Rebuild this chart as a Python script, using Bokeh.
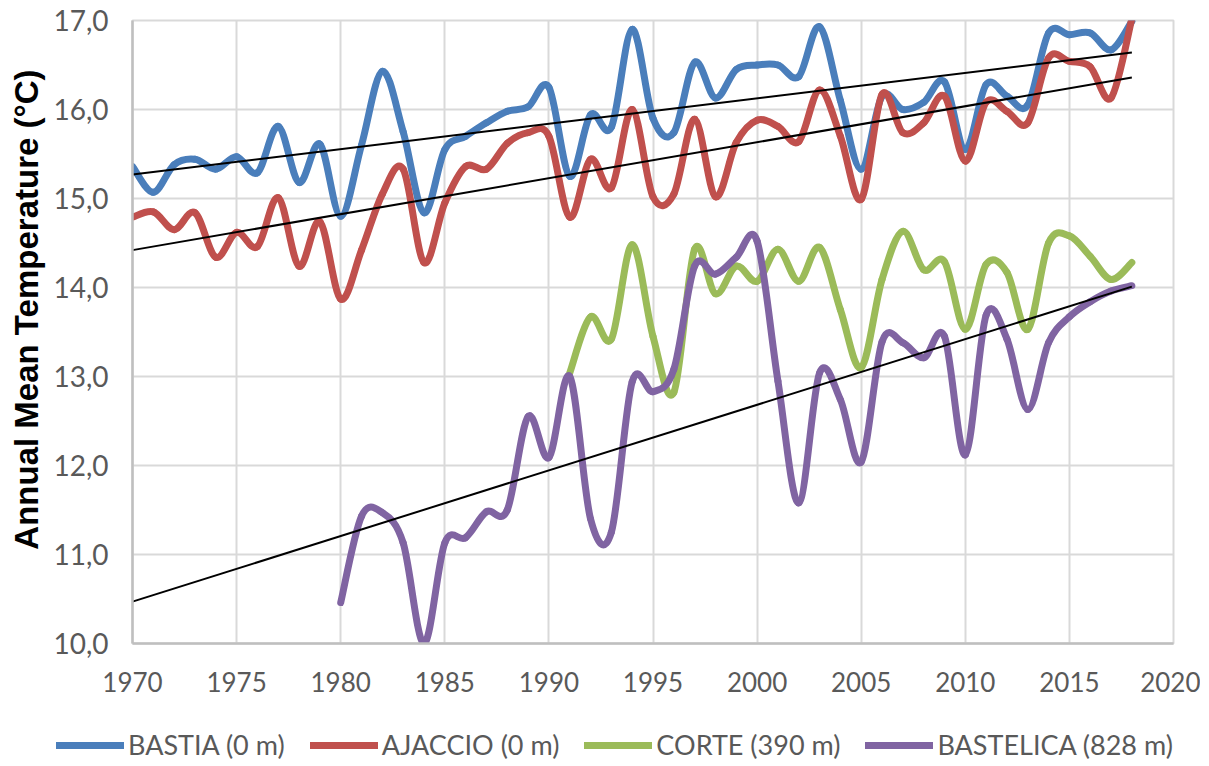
import numpy as np
from bokeh.plotting import figure
from bokeh.layouts import column
from bokeh.models import Legend, LegendItem, Range1d, FixedTicker, Title
from bokeh.embed import file_html
from bokeh.resources import INLINE

# ---------------- data ----------------
bastia_years = list(range(1970, 2019))
bastia = [15.36, 15.07, 15.38, 15.44, 15.33, 15.47, 15.29, 15.81, 15.18, 15.61,
          14.80, 15.60, 16.43, 15.75, 14.84, 15.55, 15.70, 15.85, 15.98, 16.03,
          16.25, 15.25, 15.94, 15.80, 16.90, 15.90, 15.74, 16.53, 16.13, 16.45,
          16.50, 16.50, 16.37, 16.93, 16.10, 15.33, 16.15, 16.00, 16.08, 16.31,
          15.55, 16.28, 16.15, 16.05, 16.86, 16.84, 16.86, 16.67, 16.99]

ajaccio_years = list(range(1970, 2019))
ajaccio = [14.79, 14.85, 14.65, 14.84, 14.34, 14.62, 14.46, 15.01, 14.24, 14.74,
           13.87, 14.42, 15.05, 15.33, 14.28, 14.95, 15.36, 15.33, 15.62, 15.74,
           15.70, 14.79, 15.44, 15.12, 16.00, 15.02, 15.05, 15.89, 15.02, 15.63,
           15.88, 15.81, 15.64, 16.22, 15.70, 14.99, 16.17, 15.74, 15.85, 16.15,
           15.42, 16.08, 15.98, 15.85, 16.58, 16.54, 16.48, 16.13, 17.02]

corte_years = list(range(1991, 2019))
corte = [13.04, 13.67, 13.42, 14.48, 13.45, 12.82, 14.43, 13.93, 14.24, 14.07,
         14.43, 14.07, 14.45, 13.75, 13.10, 14.09, 14.63, 14.20, 14.29, 13.53,
         14.26, 14.17, 13.53, 14.50, 14.58, 14.35, 14.09, 14.28]

bastelica_years = list(range(1980, 2019))
bastelica = [10.46, 11.43, 11.47, 11.13, 10.00, 11.13, 11.19, 11.48, 11.50, 12.55,
             12.09, 13.00, 11.40, 11.25, 12.94, 12.83, 13.08, 14.24, 14.15, 14.34,
             14.52, 12.95, 11.58, 13.04, 12.74, 12.04, 13.39, 13.38, 13.21, 13.45,
             12.12, 13.69, 13.42, 12.63, 13.38, 13.67, 13.84, 13.96, 14.02]

trend_years = [1970, 2018]
bastia_trend = [15.27, 16.64]
ajaccio_trend = [14.42, 16.36]
bastelica_trend = [10.47, 14.01]

series_names = ["BASTIA (0 m)", "AJACCIO (0 m)", "CORTE (390 m)", "BASTELICA (828 m)"]
series_colors = ["#4a7ebb", "#c0504d", "#9bbb59", "#8064a2"]

x_ticks = [1970, 1975, 1980, 1985, 1990, 1995, 2000, 2005, 2010, 2015, 2020]
y_ticks = [10, 11, 12, 13, 14, 15, 16, 17]
y_tick_labels = ["10,0", "11,0", "12,0", "13,0", "14,0", "15,0", "16,0", "17,0"]
y_title = "Annual Mean Temperature (°C)"

# ---------------- smoothing (Bezier control points, like Excel "smoothed line") ----------------
def bezier_segments(xs, ys):
    xs = np.asarray(xs, float)
    ys = np.asarray(ys, float)
    n = len(xs)
    xp = np.concatenate([[xs[0]], xs, [xs[-1]]])
    yp = np.concatenate([[ys[0]], ys, [ys[-1]]])
    return dict(
        x0=xs[:-1], y0=ys[:-1], x1=xs[1:], y1=ys[1:],
        cx0=xs[:-1] + (xp[2:n + 1] - xp[0:n - 1]) / 6.0,
        cy0=ys[:-1] + (yp[2:n + 1] - yp[0:n - 1]) / 6.0,
        cx1=xs[1:] - (xp[3:n + 2] - xp[1:n]) / 6.0,
        cy1=ys[1:] - (yp[3:n + 2] - yp[1:n]) / 6.0,
    )

# ---------------- main figure ----------------
p = figure(width=1200, height=712, output_backend="svg", toolbar_location=None,
           x_range=Range1d(1970, 2020), y_range=Range1d(10, 17),
           min_border_left=132, min_border_right=27, min_border_top=20,
           min_border_bottom=69, background_fill_color="white",
           border_fill_color="white")
p.frame_align = False

p.outline_line_color = "#d9d9d9"
p.outline_line_width = 2

p.xaxis.ticker = FixedTicker(ticks=x_ticks)
p.yaxis.ticker = FixedTicker(ticks=y_ticks)
p.yaxis.major_label_overrides = dict(zip(y_ticks, y_tick_labels))

for ax in (p.xaxis, p.yaxis):
    ax.axis_line_color = "#bfbfbf"
    ax.axis_line_width = 2.5
    ax.major_tick_line_color = None
    ax.minor_tick_line_color = None
    ax.major_label_text_font = "Lato"
    ax.major_label_text_color = "#595959"

p.xaxis.major_label_text_font_size = "26px"
p.yaxis.major_label_text_font_size = "28px"
p.xaxis.major_label_standoff = 22
p.yaxis.major_label_standoff = 18

ytitle = Title(text=y_title, align="right", offset=49, standoff=11,
               text_font="Liberation Sans", text_font_style="bold",
               text_font_size="33px", text_color="black")
p.add_layout(ytitle, "left")

p.xgrid.grid_line_color = "#d9d9d9"
p.ygrid.grid_line_color = "#d9d9d9"
p.xgrid.grid_line_width = 2
p.ygrid.grid_line_width = 2

all_series = [(bastia_years, bastia), (ajaccio_years, ajaccio),
              (corte_years, corte), (bastelica_years, bastelica)]

for (xs, ys), color in zip(all_series, series_colors):
    p.bezier(line_color=color, line_width=7, line_cap="round",
             line_join="round", **bezier_segments(xs, ys))

for tr in (bastia_trend, ajaccio_trend, bastelica_trend):
    p.line(trend_years, tr, line_color="black", line_width=2)

# ---------------- legend strip (series drawn out of view, only their legend shows) ----------------
lf = figure(width=1200, height=52, output_backend="svg", toolbar_location=None,
            x_range=Range1d(0, 1), y_range=Range1d(0, 1),
            x_axis_type=None, y_axis_type=None,
            min_border=0, min_border_left=0, min_border_right=0,
            min_border_top=0, min_border_bottom=0,
            background_fill_color="white", border_fill_color="white")
lf.frame_align = False
lf.outline_line_color = None
lf.xgrid.visible = False
lf.ygrid.visible = False

items = []
for (xs, ys), name, color in zip(all_series, series_names, series_colors):
    r = lf.line(xs, ys, line_color=color, line_width=7, line_cap="round")
    items.append(LegendItem(label=name, renderers=[r]))

legend = Legend(items=items, orientation="horizontal", location=(56, 3),
                label_text_font="Lato",
                label_text_font_size="27px", label_text_color="#595959",
                glyph_width=68, glyph_height=24, label_height=24,
                label_standoff=4, spacing=25, padding=0, margin=0,
                border_line_color=None, background_fill_alpha=0)
lf.add_layout(legend)

layout = column(p, lf, spacing=0)
open("out.html", "w").write(file_html(layout, INLINE))
